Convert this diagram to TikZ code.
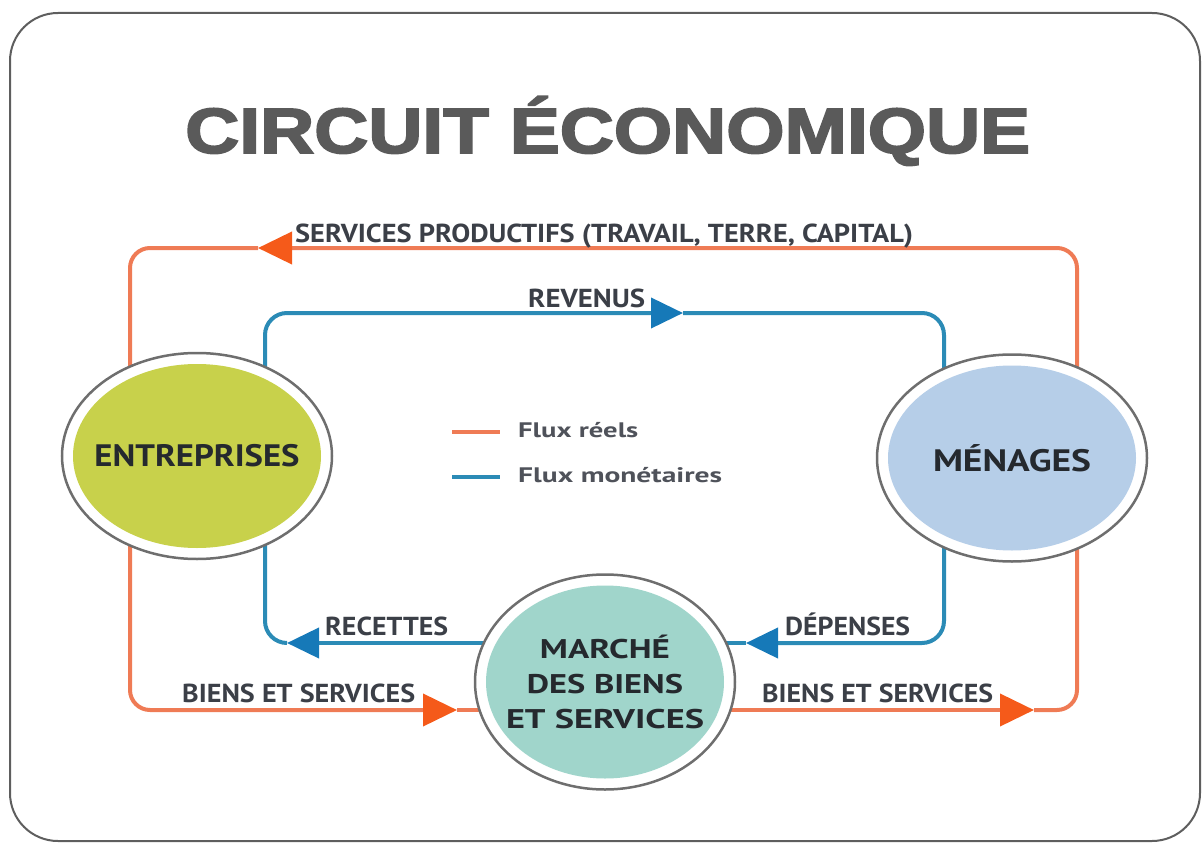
\documentclass[tikz,border=0pt]{standalone}
\usepackage{fontspec}
\usepackage{graphicx}
\setmainfont{PT Sans}
\newfontfamily\titlefont[FakeBold=2.6]{Liberation Sans Bold}
\usetikzlibrary{shapes.geometric,arrows.meta,backgrounds}
\definecolor{orangeL}{HTML}{EF7B55}
\definecolor{orangeA}{HTML}{F55A1A}
\definecolor{blueL}{HTML}{2B8BB6}
\definecolor{blueA}{HTML}{1679B8}
\definecolor{entfill}{HTML}{C8D14B}
\definecolor{menfill}{HTML}{B6CEE8}
\definecolor{mktfill}{HTML}{A0D5CB}
\definecolor{framegray}{HTML}{5E5E5E}
\definecolor{titlegray}{HTML}{5A5A5A}
\definecolor{labelgray}{HTML}{3B3F47}
\definecolor{ellgray}{HTML}{6E6E6E}
\definecolor{textdark}{HTML}{25292E}
\newcommand\fitw[2]{\resizebox{#1}{\height}{#2}}
\begin{document}
\begin{tikzpicture}[x=1pt,y=-1pt,
  econode/.style n args={3}{ellipse, draw=ellgray, line width=2.5pt, fill=white,
    minimum width=#1, minimum height=#2, inner ysep=0pt, inner xsep=-45pt, text=textdark,
    font=\fontsize{31}{35}\selectfont\bfseries,
    path picture={\fill[#3] (path picture bounding box.center) ellipse [x radius=#1/2-11pt, y radius=#2/2-11pt];}},
  real/.style={draw=orangeL, line width=4pt, rounded corners=20pt},
  money/.style={draw=blueL, line width=4pt, rounded corners=22pt},
  otip/.style={-{Triangle[length=34pt,width=32pt,color=orangeA]}},
  btip/.style={-{Triangle[length=32pt,width=30pt,color=blueA]}},
  flowlabel/.style={anchor=base west, inner sep=0pt, text=labelgray,
    font=\fontsize{26}{30}\selectfont\bfseries},
  legendtext/.style={anchor=base west, inner sep=0pt, text=labelgray!90,
    font=\fontsize{21}{25}\selectfont\bfseries}
]
\useasboundingbox (0,0) rectangle (1203,843);
\draw[framegray, line width=2pt, rounded corners=48pt] (10,13) rectangle (1200,841);
\node[anchor=base west, inner sep=0pt, text=titlegray, font=\fontsize{64}{70}\selectfont\titlefont] (title) at (185,153) {\fitw{845pt}{CIRCUIT ÉCONOMIQUE}};

\node[econode={270pt}{206pt}{entfill}] (ent) at (197,456) {\fitw{205pt}{ENTREPRISES}};
\node[econode={270pt}{207pt}{menfill}] (men) at (1012,458) {\fitw{158pt}{MÉNAGES}};
\node[econode={260pt}{215pt}{mktfill}, align=center, font=\fontsize{27}{35}\selectfont\bfseries] (mkt) at (605,682)
  {\fitw{130pt}{MARCHÉ}\\\fitw{156pt}{DES BIENS}\\\fitw{198pt}{ET SERVICES}};

\coordinate (xOL) at (130,0);
\coordinate (xOR) at (1077,0);
\coordinate (xBL) at (265,0);
\coordinate (xBR) at (944,0);
\coordinate (tOT) at (258,248);
\coordinate (tOBL) at (457,710);
\coordinate (tOBR) at (1034,710);
\coordinate (tBT) at (683,313);
\coordinate (tBBL) at (287,643);
\coordinate (tBBR) at (746,643);

\begin{scope}[on background layer]
\draw[real, otip] (men.center -| xOR) |- (tOT);
\draw[real] (tOT) -| (ent.center -| xOL);
\draw[real, otip] (ent.center -| xOL) |- (tOBL);
\draw[real] (tOBL) -- (tOBL -| mkt.center);
\draw[real, otip] (tOBR -| mkt.center) -- (tOBR);
\draw[real] (tOBR) -| (men.center -| xOR);
\draw[money, btip] (ent.center -| xBL) |- (tBT);
\draw[money] (tBT) -| (men.center -| xBR);
\draw[money, btip] (men.center -| xBR) |- (tBBR);
\draw[money] (tBBR) -- (tBBR -| mkt.center);
\draw[money, btip] (tBBL -| mkt.center) -- (tBBL);
\draw[money] (tBBL) -| (ent.center -| xBL);
\end{scope}

\node[flowlabel] (lsp) at (295,242) {\fitw{618pt}{SERVICES PRODUCTIFS (TRAVAIL, TERRE, CAPITAL)}};
\node[flowlabel] (lrev) at (528,307) {\fitw{117pt}{REVENUS}};
\node[flowlabel] (lrec) at (325,635) {\fitw{123pt}{RECETTES}};
\node[flowlabel] (ldep) at (785,635) {\fitw{125pt}{DÉPENSES}};
\node[flowlabel] (lbs1) at (182,702) {\fitw{233pt}{BIENS ET SERVICES}};
\node[flowlabel] (lbs2) at (762,702) {\fitw{231pt}{BIENS ET SERVICES}};

\coordinate (lr1) at (452,432);
\coordinate (lr2) at (500,432);
\coordinate (lb1) at (452,477);
\coordinate (lb2) at (500,477);
\draw[draw=orangeL, line width=4pt] (lr1) -- (lr2);
\draw[draw=blueL, line width=4pt] (lb1) -- (lb2);
\node[legendtext] (lgr) at (518,437) {\fitw{120pt}{Flux réels}};
\node[legendtext] (lgm) at (518,482) {\fitw{204pt}{Flux monétaires}};
\end{tikzpicture}
\end{document}
